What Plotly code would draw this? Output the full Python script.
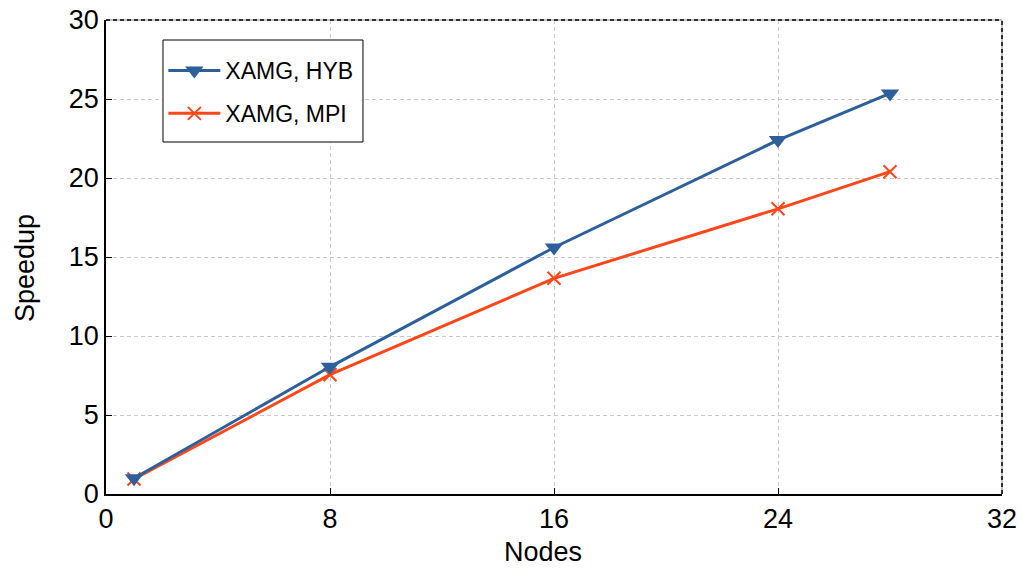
import plotly.graph_objects as go

# Strong-scaling speedup of XAMG with hybrid vs pure MPI parallelization
nodes = [1, 8, 16, 24, 28]
speedup_hyb = [1.0, 8.05, 15.6, 22.4, 25.35]
speedup_mpi = [0.95, 7.55, 13.65, 18.05, 20.4]

x_ticks = [0, 8, 16, 24, 32]
y_ticks = [0, 5, 10, 15, 20, 25, 30]

BLUE = "#2D609B"
ORANGE = "#FF4719"
FONT = "Liberation Sans, Arial, sans-serif"
TICK_SIZE = 27

fig = go.Figure()

fig.add_trace(go.Scatter(
    x=nodes, y=speedup_mpi, name="XAMG, MPI", mode="lines+markers",
    line=dict(color=ORANGE, width=3),
    marker=dict(symbol="x-thin", size=13, line=dict(color=ORANGE, width=2)),
    legendgroup="mpi", legendrank=2,
))
fig.add_trace(go.Scatter(
    x=nodes, y=speedup_hyb, name="XAMG, HYB", mode="lines+markers",
    line=dict(color=BLUE, width=3),
    marker=dict(symbol="triangle-down", size=16, color=BLUE),
    legendgroup="hyb", legendrank=1,
))

# Top and right frame: grey line overlaid by black dashes
for ln in [dict(x0=0, x1=1, y0=1, y1=1), dict(x0=1, x1=1, y0=0, y1=1)]:
    fig.add_shape(type="line", xref="x domain", yref="y domain",
                  line=dict(color="#b0b0b0", width=1.5), layer="above", **ln)
    fig.add_shape(type="line", xref="x domain", yref="y domain",
                  line=dict(color="black", width=1.5, dash="4px,3px"),
                  layer="above", **ln)

# Legend frame with white fill
fig.add_shape(type="rect", xref="paper", yref="paper",
              x0=0.0636, x1=0.2868, y0=0.7426, y1=0.9578,
              line=dict(color="black", width=1), fillcolor="white", layer="above")

axis_common = dict(
    automargin=False,
    showline=True, linecolor="black", linewidth=1.5, mirror=False,
    ticks="inside", ticklen=6, tickwidth=1.2, tickcolor="black",
    showgrid=True, gridcolor="#c8c8c8", gridwidth=1, griddash="4px,3px",
    zeroline=False, tickfont=dict(size=TICK_SIZE, color="black", family=FONT),
)

fig.update_xaxes(range=[0, 32], tickvals=x_ticks, **axis_common)
fig.update_yaxes(range=[0, 30], tickvals=y_ticks, **axis_common)

# Axis titles
fig.add_annotation(text="Nodes", xref="paper", yref="paper", x=0.4877, y=-0.122,
                   xanchor="center", yanchor="middle", showarrow=False, borderpad=0,
                   font=dict(size=TICK_SIZE, color="black", family=FONT))
fig.add_annotation(text="Speedup", xref="paper", yref="paper", x=-0.0904, y=0.4768,
                   xanchor="center", yanchor="middle", showarrow=False, textangle=-90,
                   borderpad=0, font=dict(size=TICK_SIZE, color="black", family=FONT))

fig.update_layout(
    width=1022, height=568,
    margin=dict(l=106, r=20, t=20, b=74),
    plot_bgcolor="white", paper_bgcolor="white",
    font=dict(family=FONT, color="black"),
    legend=dict(
        x=0.064, y=0.9388, xanchor="left", yanchor="top",
        bgcolor="rgba(0,0,0,0)", borderwidth=0,
        font=dict(size=23, color="black", family=FONT),
        tracegroupgap=10, traceorder="grouped", itemwidth=52,
    ),
    showlegend=True,
)

fig.write_html("out.html")
